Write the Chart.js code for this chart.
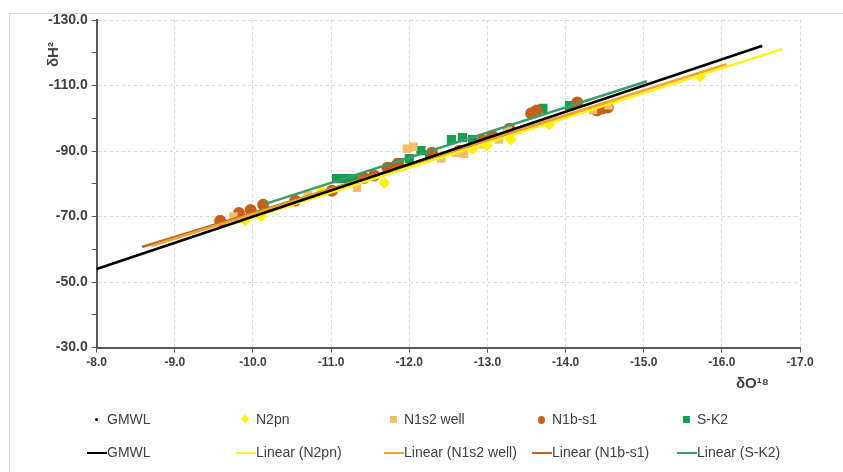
<!DOCTYPE html>
<html>
<head>
<meta charset="utf-8">
<script src="https://cdn.jsdelivr.net/npm/chart.js@4.4.1/dist/chart.umd.min.js"></script>
<style>
body { margin: 0; background: #fff; font-family: "Liberation Sans", Arial, sans-serif; }
#wrap { position: relative; width: 843px; height: 472px; overflow: hidden; }
#frame { position: absolute; left: 9px; top: 13px; width: 850px; height: 480px; border: 1px solid #d9d9d9; }
#chart { position: absolute; left: 0; top: 0; }
.ttl { position: absolute; font-weight: bold; color: #404040; font-size: 15px; white-space: nowrap; }
.leg { position: absolute; font-size: 14px; color: #404040; white-space: nowrap; line-height: 16px; }
.sym { position: absolute; }
</style>
</head>
<body>
<div id="wrap">
  <div id="frame"></div>
  <canvas id="chart" width="843" height="472"></canvas>
  <div class="ttl" id="ytitle" style="left:40px;top:46px;transform:rotate(-90deg);transform-origin:center;">δH²</div>
  <div class="ttl" id="xtitle" style="left:736px;top:374px;">δO¹⁸</div>
  <div id="legend"></div>
</div>
<script>
// measured points (δO18, δ2H)
const gmwlX = [-8.0, -16.5];
const gmwlY = [-54.0, -122.0];

const n2pnX = [-9.9, -10.1, -10.88, -11.68, -12.81, -12.99, -13.3, -13.79, -15.72];
const n2pnY = [-68.8, -70.2, -77.9, -80.3, -90.7, -91.7, -93.5, -98.1, -112.8];

const n1s2X = [-9.75, -10.7, -11.33, -11.97, -12.05, -12.41, -12.6, -12.7, -12.95, -13.15, -13.26, -14.35, -14.55];
const n1s2Y = [-70.0, -76.5, -78.8, -90.7, -91.3, -87.7, -89.5, -89.2, -92.0, -93.5, -96.3, -102.5, -104.0];

const n1bX = [-9.58, -9.82, -9.97, -10.13, -10.54, -11.01, -11.42, -11.55, -11.72, -11.85, -12.29, -12.64, -12.94, -13.06, -13.28, -13.56, -13.63, -14.15, -14.40, -14.47, -14.54];
const n1bY = [-68.7, -71.1, -72.0, -73.6, -74.8, -77.9, -81.8, -82.5, -84.9, -86.1, -89.5, -90.1, -93.2, -94.7, -96.8, -101.5, -102.4, -104.8, -102.4, -103.0, -103.3];

const sk2X = [-11.07, -11.18, -11.29, -11.87, -12.0, -12.15, -12.26, -12.54, -12.68, -12.81, -13.71, -14.05];
const sk2Y = [-81.6, -81.6, -81.6, -86.5, -87.7, -90.1, -88.9, -93.5, -94.1, -93.5, -103.0, -103.9];

// trendline end points
const fitN2pnX = [-9.7, -16.77];
const fitN2pnY = [-67.5, -121.1];
const fitN1s2X = [-8.7, -16.06];
const fitN1s2Y = [-61.0, -116.5];
const fitN1bX = [-8.58, -14.7];
const fitN1bY = [-60.7, -105.5];
const fitSK2X = [-10.15, -15.04];
const fitSK2Y = [-73.8, -111.3];

const xTicks = [-8, -9, -10, -11, -12, -13, -14, -15, -16, -17];
const yTicks = [-130, -110, -90, -70, -50, -30];

const pts = (xs, ys) => xs.map((x, i) => ({ x: x, y: ys[i] }));

const markerSets = [
  { label: 'GMWL', data: pts(gmwlX, gmwlY), color: '#000000', style: 'circle', r: 1.5 },
  { label: 'N2pn', data: pts(n2pnX, n2pnY), color: '#FFF200', style: 'rectRot', r: 6 },
  { label: 'N1s2 well', data: pts(n1s2X, n1s2Y), color: '#F3BF6B', style: 'rect', r: 6 },
  { label: 'N1b-s1', data: pts(n1bX, n1bY), color: '#C4601C', style: 'circle', r: 6 },
  { label: 'S-K2', data: pts(sk2X, sk2Y), color: '#16A04E', style: 'rect', r: 6.5 }
];
const lineSets = [
  { label: 'GMWL', data: pts(gmwlX, gmwlY), color: '#000000' },
  { label: 'Linear (N2pn)', data: pts(fitN2pnX, fitN2pnY), color: '#FFF21A' },
  { label: 'Linear (N1s2 well)', data: pts(fitN1s2X, fitN1s2Y), color: '#EFA52E' },
  { label: 'Linear (N1b-s1)', data: pts(fitN1bX, fitN1bY), color: '#B8692F' },
  { label: 'Linear (S-K2)', data: pts(fitSK2X, fitSK2Y), color: '#3A9B6C' }
];

const datasets = [];
markerSets.forEach(s => datasets.push({
  label: s.label, data: s.data, showLine: false, order: 2,
  pointStyle: s.style, pointRadius: s.r, pointHoverRadius: s.r,
  backgroundColor: s.color, borderColor: s.color, borderWidth: 0
}));
lineSets.forEach(s => datasets.push({
  label: s.label, data: s.data, showLine: true, order: 1,
  pointRadius: 0, borderColor: s.color, borderWidth: 2.5, backgroundColor: s.color
}));

const tickFont = { family: '"Liberation Sans", Arial, sans-serif', size: 14, weight: 'bold' };

new Chart(document.getElementById('chart'), {
  type: 'scatter',
  data: { datasets: datasets },
  options: {
    responsive: false,
    animation: false,
    layout: { padding: { left: 44, right: 43, top: 20, bottom: 99 } },
    plugins: { legend: { display: false }, tooltip: { enabled: false } },
    scales: {
      x: {
        type: 'linear', min: -17, max: -8, reverse: true,
        ticks: { stepSize: 1, color: '#404040', font: { ...tickFont, size: 12 },
          callback: v => xTicks.includes(v) ? v.toFixed(1) : '' },
        grid: { color: '#dadada', tickColor: '#595959', tickLength: 5 },
        border: { color: '#595959', width: 2, dash: [3, 3] }
      },
      y: {
        type: 'linear', min: -130, max: -30, reverse: true,
        ticks: { stepSize: 10, color: '#404040', font: tickFont, padding: 4,
          callback: v => yTicks.includes(v) ? v.toFixed(1) : '' },
        grid: {
          color: c => yTicks.includes(c.tick.value) ? '#dadada' : 'rgba(0,0,0,0)',
          tickColor: '#595959', tickLength: 5
        },
        border: { color: '#595959', width: 2, dash: [3, 3] }
      }
    }
  }
});

// legend: two rows, five columns
const legCols = [107, 256, 404, 552, 697];
const legRows = [411, 444];
const legend = document.getElementById('legend');
function addItem(col, row, text, symHtml) {
  const d = document.createElement('div');
  d.className = 'leg';
  d.style.left = legCols[col] + 'px';
  d.style.top = legRows[row] + 'px';
  d.textContent = text;
  legend.appendChild(d);
  const s = document.createElement('div');
  s.className = 'sym';
  s.innerHTML = symHtml;
  legend.appendChild(s);
  return s;
}
markerSets.forEach((m, i) => {
  let html;
  if (m.style === 'rectRot') html = `<div style="width:6px;height:6px;background:${m.color};transform:rotate(45deg)"></div>`;
  else if (m.style === 'rect') html = `<div style="width:7px;height:7px;background:${m.color}"></div>`;
  else if (m.r < 2) html = `<div style="width:3px;height:3px;border-radius:50%;background:${m.color}"></div>`;
  else html = `<div style="width:7px;height:8px;border-radius:50%;background:${m.color}"></div>`;
  const s = addItem(i, 0, m.label, html);
  const w = m.r < 2 ? 3 : 7;
  s.style.left = (legCols[i] - 11 - w / 2) + 'px';
  s.style.top = (legRows[0] + 8 - w / 2) + 'px';
});
lineSets.forEach((l, i) => {
  const s = addItem(i, 1, l.label, `<div style="width:20px;height:2px;background:${l.color}"></div>`);
  s.style.left = (legCols[i] - 20) + 'px';
  s.style.top = (legRows[1] + 8) + 'px';
});
</script>
</body>
</html>
